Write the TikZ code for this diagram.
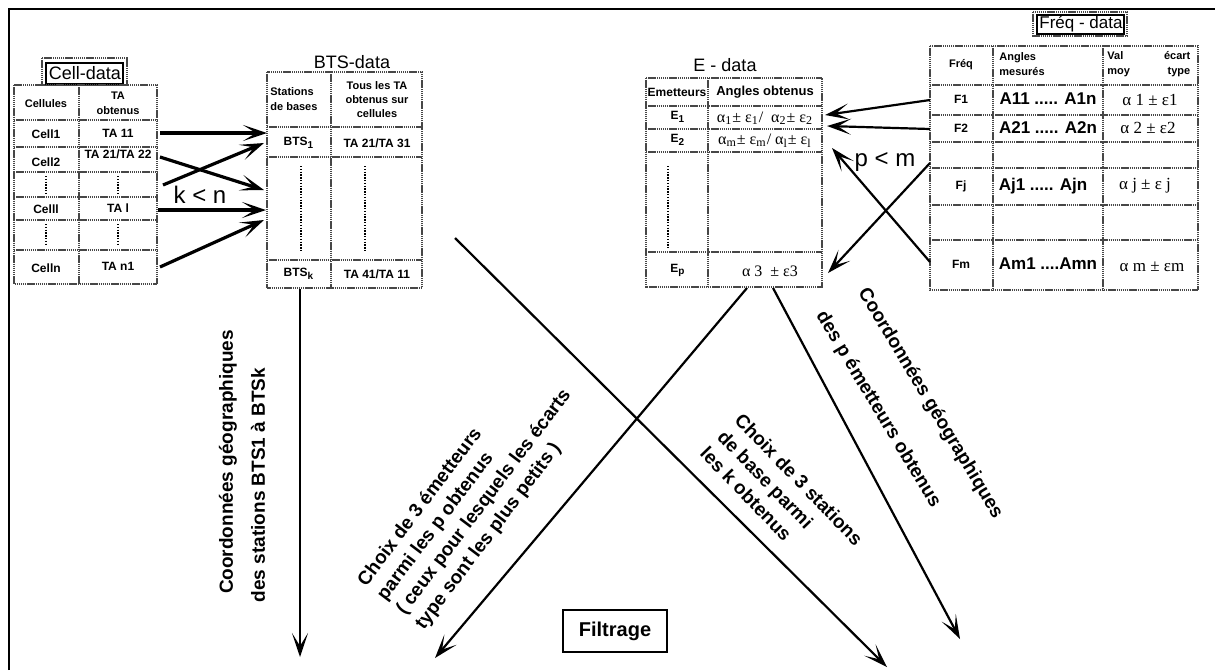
\documentclass[tikz,border=0pt]{standalone}
\usepackage{fontspec}
\setmainfont{Liberation Sans}
\newfontfamily\grk{Liberation Serif}
\usetikzlibrary{arrows.meta}

\begin{document}
\begin{tikzpicture}[x=0.5pt,y=-0.5pt,
  tblline/.style={draw=black!72,line width=0.8pt,dash pattern=on 0.7pt off 0.35pt},
  dotv/.style={draw=black,line width=0.7pt,dash pattern=on 0.7pt off 0.7pt},
  titlebox/.style={draw=black,line width=0.9pt},
  ttl/.style={font=\fontsize{9}{10}\selectfont,inner sep=0pt},
  hd/.style={font=\fontsize{5.5}{7.5}\selectfont\bfseries,inner sep=0pt,align=center},
  td/.style={font=\fontsize{6}{7}\selectfont\bfseries,inner sep=0pt},
  bigtd/.style={font=\fontsize{8.5}{10}\selectfont\bfseries,inner sep=0pt},
  gk/.style={font=\fontsize{8.5}{10}\selectfont\grk,inner sep=0pt},
  gks/.style={font=\fontsize{8}{9}\selectfont\grk,inner sep=0pt},
  lbl/.style={font=\fontsize{9.5}{12}\selectfont\bfseries,inner sep=0pt,align=left},
  cmp/.style={font=\fontsize{12}{14}\selectfont,inner sep=0pt},
  arr/.style={line width=1.1pt,-{Stealth[length=12pt,width=8pt,inset=6.5pt]}},
  arrb/.style={arr,line width=1.6pt},
]
\useasboundingbox (0,0) rectangle (1215,670);

% outer frame (top and left sides)
\draw[line width=1pt] (9,670) -- (9,9) -- (1215,9);

% ---------------- Cell-data ----------------
\draw[tblline] (42,58) rectangle (127,85);
\draw[titlebox] (46,63) rectangle (123,84);
\node[ttl] (celltitle) at (85,73) {Cell-data};
\draw[tblline] (14,85) rectangle (157,284);
\draw[tblline] (79,85) -- (79,284);
\foreach \yy in {120,147,172,197,220,250} \draw[tblline] (14,\yy) -- (157,\yy);
\node[hd] (cellh1) at (46,104) {Cellules};
\node[hd] (cellh2) at (118,103) {TA\\obtenus};
\node[td] (cell1) at (46,134) {Cell1};
\node[td] (ta1) at (118,133) {TA 11};
\node[td] (cell2) at (46,162) {Cell2};
\node[td] (ta2) at (118,154) {TA 21/TA 22};
\draw[dotv] (46,176) -- (46,194);
\draw[dotv] (118,176) -- (118,194);
\node[td] (celll) at (46,209) {Celll};
\node[td] (tal) at (118,208) {TA l};
\draw[dotv] (46,224) -- (46,246);
\draw[dotv] (118,224) -- (118,246);
\node[td] (celln) at (46,268) {Celln};
\node[td] (tan) at (118,266) {TA n1};

% ---------------- BTS-data ----------------
\node[ttl] (btstitle) at (352,62) {BTS-data};
\draw[tblline] (267,72) rectangle (422,288);
\draw[tblline] (331,72) -- (331,288);
\foreach \yy in {127,157,260} \draw[tblline] (267,\yy) -- (422,\yy);
\node[hd,align=left,anchor=west] (btsh1) at (270,99) {Stations\\de bases};
\node[hd,font=\fontsize{5.5}{7}\selectfont\bfseries] (btsh2) at (377,100) {Tous les TA\\obtenus sur\\cellules};
\node[td] (bts1) at (299,143) {BTS\textsubscript{1}};
\node[td] (btsta1) at (377,143) {TA 21/TA 31};
\draw[dotv] (301,166) -- (301,252);
\draw[dotv] (365,166) -- (365,252);
\node[td] (btsk) at (299,274) {BTS\textsubscript{k}};
\node[td] (btstak) at (377,274) {TA 41/TA 11};

% Cell-data -> BTS-data
\coordinate (c1s) at (160,133); \coordinate (c1e) at (267,133);
\coordinate (c2s) at (160,157); \coordinate (c2e) at (264,190);
\coordinate (c3s) at (163,185); \coordinate (c3e) at (264,143);
\coordinate (c4s) at (158,210); \coordinate (c4e) at (266,210);
\coordinate (c5s) at (160,267); \coordinate (c5e) at (264,220);
\draw[arrb] (c1s) -- (c1e);
\draw[arrb] (c2s) -- (c2e);
\draw[arrb] (c3s) -- (c3e);
\draw[arrb] (c4s) -- (c4e);
\draw[arrb] (c5s) -- (c5e);
\node[cmp] (kn) at (200,195) {k < n};

% ---------------- E-data ----------------
\node[ttl] (etitle) at (725,65) {E - data};
\draw[tblline] (646,78) rectangle (822,287);
\draw[tblline] (708,78) -- (708,287);
\foreach \yy in {106,129,152,252} \draw[tblline] (646,\yy) -- (822,\yy);
\node[hd,font=\fontsize{6}{7.5}\selectfont\bfseries] (eh1) at (677,92) {Emetteurs};
\node[hd,font=\fontsize{6.5}{7.5}\selectfont\bfseries] (eh2) at (765,92) {Angles obtenus};
\node[td] (e1) at (678,117) {E\textsubscript{1}};
\node[gks] (e1v) at (765,118) {α\textsubscript{1}± ε\textsubscript{1}/\ \ α\textsubscript{2}± ε\textsubscript{2}};
\node[td] (e2) at (678,140) {E\textsubscript{2}};
\node[gks] (e2v) at (765,141) {α\textsubscript{m}± ε\textsubscript{m}/ α\textsubscript{l}± ε\textsubscript{l}};
\draw[dotv] (668,166) -- (668,248);
\node[td] (ep) at (678,270) {E\textsubscript{p}};
\node[gks] (epv) at (770,271) {α 3\ \ ± ε3};

% ---------------- Fréq-data ----------------
\draw[tblline] (1033,12) rectangle (1127,36);
\draw[titlebox] (1037,15) rectangle (1124,34);
\node[ttl,font=\fontsize{8.5}{10}\selectfont] (ftitle) at (1081,24) {Fréq - data};
\draw[tblline] (930,46) rectangle (1198,290);
\draw[tblline] (993,46) -- (993,290);
\draw[tblline] (1103,46) -- (1103,290);
\foreach \yy in {85,115,142,168,205,240} \draw[tblline] (930,\yy) -- (1198,\yy);
\node[hd] (fh1) at (961,65) {Fréq};
\node[hd,align=left,anchor=west] (fh2) at (999,64) {Angles\\mesurés};
\node[hd,anchor=west] (fh3) at (1107,64)
  {\begin{tabular}{@{}l@{\hspace{17pt}}r@{}}Val&écart\\moy&type\end{tabular}};
\node[td] (f1) at (961,99) {F1};
\node[bigtd] (f1a) at (1048,99) {A11 ..... A1n};
\node[gk] (f1v) at (1150,100) {α 1 ± ε1};
\node[td] (f2) at (961,128) {F2};
\node[bigtd] (f2a) at (1048,128) {A21 ..... A2n};
\node[gk] (f2v) at (1148,128) {α 2 ± ε2};
\node[td] (fj) at (961,186) {Fj};
\node[bigtd] (fja) at (1043,186) {Aj1 ..... Ajn};
\node[gk] (fjv) at (1145,186) {α j ± ε j};
\node[td] (fm) at (961,264) {Fm};
\node[bigtd] (fma) at (1048,264) {Am1 ....Amn};
\node[gk] (fmv) at (1152,267) {α m ± εm};

% Fréq-data -> E-data
\coordinate (f1s) at (930,100); \coordinate (f1e) at (825,115);
\coordinate (f2s) at (930,129); \coordinate (f2e) at (827,126);
\coordinate (fds) at (930,163); \coordinate (fde) at (828,273);
\coordinate (fus) at (930,262); \coordinate (fue) at (832,148);
\draw[arr] (f1s) -- (f1e);
\draw[arr] (f2s) -- (f2e);
\draw[arr] (fds) -- (fde);
\draw[arr] (fus) -- (fue);
\node[cmp] (pm) at (885,162) {p < m};

% ---------------- lower part ----------------
\coordinate (vs) at (300,289); \coordinate (ve) at (300,657);
\draw[arr] (vs) -- (ve);
\node[lbl,rotate=90] (geo1a) at (228,462) {Coordonnées géographiques};
\node[lbl,rotate=90] (geo1b) at (258,485) {des stations BTS1 à BTSk};

\coordinate (as) at (455,238); \coordinate (ae) at (887,667);
\draw[arr] (as) -- (ae);
\coordinate (bs) at (747,288); \coordinate (be) at (435,658);
\draw[arr] (bs) -- (be);
\coordinate (cs) at (773,288); \coordinate (ce) at (960,639);
\draw[arr] (cs) -- (ce);

\node[lbl,rotate=53,anchor=west] (choixe) at (391,606)
  {Choix de 3 émetteurs\\parmi les p obtenus\\( ceux pour lesquels les écarts\\type sont les plus petits )};
\node[lbl,rotate=-46,anchor=west] (choixs) at (721,433)
  {Choix de 3 stations\\de base parmi\\les k obtenus};
\node[lbl,rotate=-59,anchor=west] (geo2a) at (862,290) {Coordonnées géographiques};
\node[lbl,rotate=-59,anchor=west] (geo2b) at (820,313) {des p émetteurs obtenus};

\node[draw,line width=1.2pt,minimum width=52pt,minimum height=21pt,
      font=\fontsize{10}{12}\selectfont\bfseries] (filtre) at (615,631) {Filtrage};
\end{tikzpicture}
\end{document}
